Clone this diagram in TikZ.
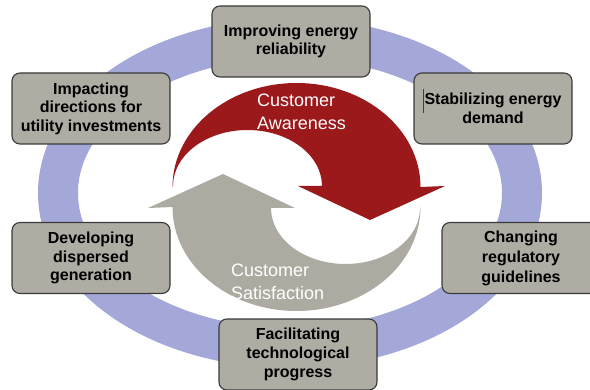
\documentclass[tikz,border=0pt]{standalone}
\usepackage{fontspec}
\setmainfont{Liberation Sans}
\definecolor{ringc}{HTML}{A3A8D9}
\definecolor{boxfill}{HTML}{AFACA4}
\definecolor{boxline}{HTML}{3A3A3A}
\definecolor{redarr}{HTML}{9B181B}
\definecolor{grayarr}{HTML}{ADAAA2}
\begin{document}
\begin{tikzpicture}[x=1pt,y=1pt,
  box/.style={draw=boxline, line width=1.1pt, fill=boxfill, rounded corners=8pt,
    minimum width=158pt, minimum height=71pt, align=center, inner sep=2pt, text=black,
    font=\fontsize{16}{18.5}\selectfont\bfseries},
  lbl/.style={text=white, align=left, inner sep=0pt, anchor=north west,
    font=\fontsize{18}{23}\selectfont}]
\useasboundingbox (0,0) rectangle (590,389);
\clip (0,0) rectangle (590,389);
% ring
\draw[ringc, line width=40pt] (290,196) ellipse [x radius=232, y radius=155];
% red arrow
\begin{scope}[shift={(296.5,192)}]
\fill[redarr] (-124,10) arc[start angle=180, end angle=0, x radius=124, y radius=104]
  -- (148.5,11) -- (73.5,-23) -- (1.5,11) -- (25.5,11)
  arc[start angle=0, end angle=180, x radius=74.5, y radius=56] -- cycle;
\end{scope}
% gray arrow
\begin{scope}[shift={(296.5,192)}, rotate=180]
\fill[grayarr] (-124,10) arc[start angle=180, end angle=0, x radius=124, y radius=104]
  -- (148.5,11) -- (73.5,-23) -- (1.5,11) -- (25.5,11)
  arc[start angle=0, end angle=180, x radius=74.5, y radius=56] -- cycle;
\end{scope}
\node[lbl] (aware) at (257,295) {Customer\\Awareness};
\node[lbl] (satis) at (231,125) {Customer\\Satisfaction};
% boxes
\node[box] (top) at (291,347.5) {Improving energy\\reliability};
\node[box] (impact) at (91,280.5) {Impacting\\directions for\\utility investments};
\node[box] (stab) at (493,280.5) {Stabilizing energy\\demand};
\node[box] (dev) at (91,131) {Developing\\dispersed\\generation};
\node[box, font=\fontsize{16}{20}\selectfont\bfseries] (chg) at (521,131) {Changing\\regulatory\\guidelines};
\node[box, font=\fontsize{16}{19}\selectfont\bfseries] (fac) at (298,34.5) {Facilitating\\technological\\progress};
\draw[line width=0.7pt, black!75] (423.5,300) -- (423.5,276);
\end{tikzpicture}
\end{document}
